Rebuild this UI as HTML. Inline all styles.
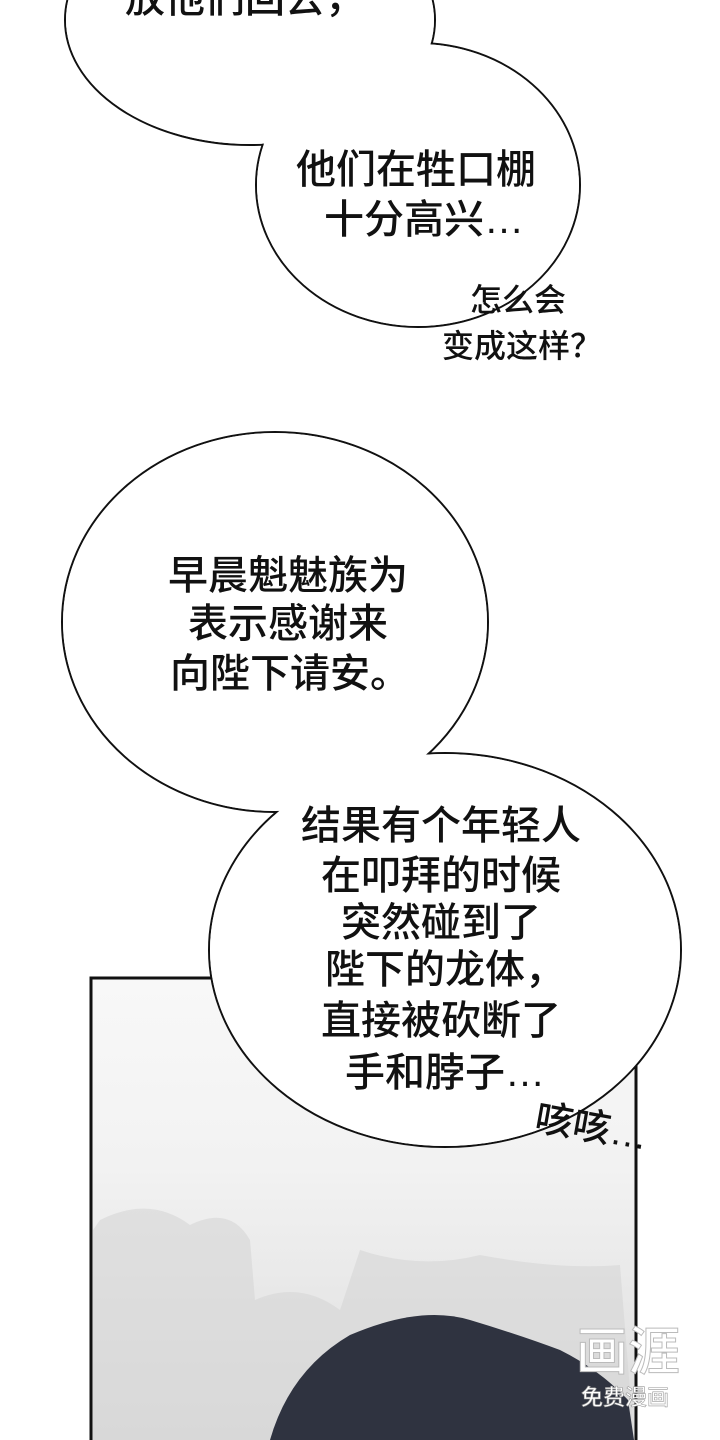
<!DOCTYPE html>
<html><head><meta charset="utf-8"><style>
html,body{margin:0;padding:0;background:#fff}
body{width:720px;height:1440px;overflow:hidden;position:relative}
svg{position:absolute;left:0;top:0}
text{font-family:"Liberation Sans","Noto Sans CJK SC",sans-serif;fill:#111;font-weight:500}
</style></head><body>
<svg width="720" height="1440" viewBox="0 0 720 1440">
<defs>
<linearGradient id="bg" x1="0" y1="0" x2="0" y2="1">
<stop offset="0" stop-color="#f8f8f8"/><stop offset="0.4" stop-color="#f2f2f2"/><stop offset="1" stop-color="#dcdcdc"/>
</linearGradient>
</defs>
<rect x="91" y="978" width="545" height="470" fill="url(#bg)" stroke="#111" stroke-width="3"/>
<path d="M100 1220 Q150 1195 190 1225 Q230 1205 250 1240 L255 1300 Q300 1280 340 1310 L360 1250 Q420 1270 480 1255 Q560 1270 620 1265 L634 1440 L93 1440 L93 1230 Z" fill="#d6d6d6" opacity="0.6"/>
<path d="M270 1440 Q290 1370 350 1335 Q420 1305 470 1320 Q520 1335 560 1350 Q600 1370 628 1400 L634 1440 Z" fill="#2f3340"/>
<g stroke="#111" stroke-width="2" fill="#fff">
<ellipse cx="250" cy="20" rx="185" ry="125"/>
<ellipse cx="418" cy="185" rx="162" ry="142"/>
</g>
<g fill="#fff">
<ellipse cx="250" cy="20" rx="184" ry="124"/>
<ellipse cx="418" cy="185" rx="161" ry="141"/>
</g>
<g stroke="#111" stroke-width="2" fill="#fff">
<ellipse cx="275" cy="622" rx="213" ry="190"/>
<ellipse cx="445" cy="950" rx="236" ry="197"/>
</g>
<g fill="#fff">
<ellipse cx="275" cy="622" rx="212" ry="189"/>
<ellipse cx="445" cy="950" rx="235" ry="196"/>
</g>
<g font-size="40" text-anchor="middle">
<text x="245" y="12">放他们回去，</text>
<text x="416" y="183">他们在牲口棚</text>
<text x="424" y="233">十分高兴…</text>
<text x="288" y="589">早晨魁魅族为</text>
<text x="288" y="637">表示感谢来</text>
<text x="290" y="687">向陛下请安。</text>
<text x="441" y="839">结果有个年轻人</text>
<text x="441" y="889">在叩拜的时候</text>
<text x="441" y="936">突然碰到了</text>
<text x="445" y="983">陛下的龙体，</text>
<text x="441" y="1034">直接被砍断了</text>
<text x="445" y="1086">手和脖子…</text>
</g>
<g font-size="32" text-anchor="middle">
<text x="518" y="311">怎么会</text>
<text x="522" y="357">变成这样？</text>
</g>
<text x="592" y="1140" font-size="38" text-anchor="middle" transform="rotate(10 592 1126)">咳咳…</text>
<g text-anchor="middle">
<text x="628" y="1370" font-size="52" style="fill:#fff;stroke:#bbb;stroke-width:1">画涯</text>
<text x="625" y="1405" font-size="22" style="fill:#fff;stroke:#999;stroke-width:0.6">免费漫画</text>
</g>
</svg>
</body></html>
